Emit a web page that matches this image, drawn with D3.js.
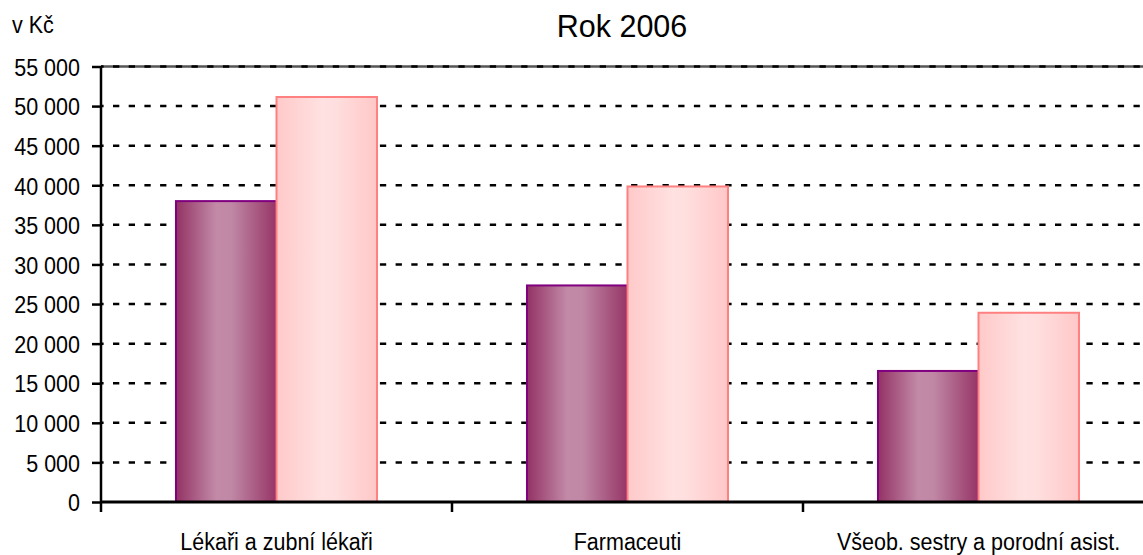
<!DOCTYPE html>
<html>
<head>
<meta charset="utf-8">
<script src="https://cdn.jsdelivr.net/npm/d3@7"></script>
<style>
  html, body { margin: 0; padding: 0; background: #fff; overflow: hidden; }
  svg { display: block; }
  text { font-family: "Liberation Sans", Arial, sans-serif; fill: #000; }
</style>
</head>
<body>
<svg id="chart" width="1143" height="555"></svg>
<script>
// ---- data ----
const categories = ["Lékaři a zubní lékaři", "Farmaceuti", "Všeob. sestry a porodní asist."];
const seriesNames = ["Řada 1", "Řada 2"];
const series1 = [38000, 27350, 16550];
const series2 = [51150, 39850, 23900];
const yTicks = [0, 5000, 10000, 15000, 20000, 25000, 30000, 35000, 40000, 45000, 50000, 55000];
const title = "Rok 2006";
const unitLabel = "v Kč";

// ---- layout ----
const svg = d3.select("#chart");
const plotLeft = 101, plotRight = 1154, plotTop = 66.5, plotBottom = 502;
const sy = 1.13; // vertical stretch of axis text

const locale = d3.formatLocale({ decimal: ",", thousands: " ", grouping: [3], currency: ["", " Kč"] });
const fmt = locale.format(",");

const x = d3.scaleBand().domain(categories).range([plotLeft, plotRight]).paddingInner(0).paddingOuter(0);
const xs = d3.scaleBand().domain(seriesNames).range([0, x.bandwidth()]).paddingInner(0).paddingOuter(0.746);
const y = d3.scaleLinear().domain([0, 55000]).range([plotBottom, plotTop]);

// gradients
const defs = svg.append("defs");
const g1 = defs.append("linearGradient").attr("id", "gPurple").attr("x1", "0").attr("x2", "1").attr("y1", "0").attr("y2", "0");
[["0%", "#933265"], ["40%", "#C28AA7"], ["55%", "#C088A5"], ["100%", "#963567"]].forEach(s => g1.append("stop").attr("offset", s[0]).attr("stop-color", s[1]));
const g2 = defs.append("linearGradient").attr("id", "gPink").attr("x1", "0").attr("x2", "1").attr("y1", "0").attr("y2", "0");
[["0%", "#FFC9C9"], ["45%", "#FFE1E1"], ["60%", "#FFDEDE"], ["100%", "#FFC7C7"]].forEach(s => g2.append("stop").attr("offset", s[0]).attr("stop-color", s[1]));

// grid lines
svg.append("g").selectAll("line").data(yTicks.filter(v => v > 0 && v < 55000)).join("line")
  .attr("x1", plotLeft).attr("x2", 1143)
  .attr("y1", d => y(d)).attr("y2", d => y(d))
  .attr("stroke", "#000").attr("stroke-width", 2.5)
  .attr("stroke-dasharray", "6.3 9.4").attr("stroke-dashoffset", 3.7);

// top border line
svg.append("line").attr("x1", plotLeft).attr("x2", 1143).attr("y1", y(55000)).attr("y2", y(55000))
  .attr("stroke", "#555").attr("stroke-width", 2.5);
svg.append("line").attr("x1", plotLeft).attr("x2", 1143).attr("y1", y(55000)).attr("y2", y(55000))
  .attr("stroke", "#000").attr("stroke-width", 2.5)
  .attr("stroke-dasharray", "6.3 9.4").attr("stroke-dashoffset", 3.7);

// bars
const seriesData = [
  { name: seriesNames[0], values: series1, fill: "url(#gPurple)", stroke: "#800080" },
  { name: seriesNames[1], values: series2, fill: "url(#gPink)", stroke: "#FF8080" }
];
seriesData.forEach(s => {
  svg.append("g").selectAll("rect").data(categories).join("rect")
    .attr("x", c => x(c) + xs(s.name))
    .attr("width", xs.bandwidth())
    .attr("y", (c, i) => y(s.values[i]))
    .attr("height", (c, i) => y(0) - y(s.values[i]))
    .attr("fill", s.fill)
    .attr("stroke", s.stroke)
    .attr("stroke-width", 2);
});

// y axis
const yAxis = svg.append("g").attr("transform", `translate(${plotLeft},0)`)
  .call(d3.axisLeft(y).tickValues(yTicks).tickFormat(fmt).tickSize(9).tickPadding(12));
yAxis.select(".domain").attr("stroke", "#000").attr("stroke-width", 2.5).attr("d", `M0,${plotTop}V${plotBottom}`);
yAxis.selectAll(".tick line").attr("stroke", "#000").attr("stroke-width", 2.5);
yAxis.selectAll(".tick text")
  .style("font-family", '"Liberation Sans", Arial, sans-serif')
  .style("font-size", "21.5px").attr("fill", "#000")
  .attr("dy", "0.36em")
  .attr("transform", `scale(1,${sy})`);

// x axis (labels at band centers)
const xAxis = svg.append("g").attr("transform", `translate(0,${plotBottom})`)
  .call(d3.axisBottom(x).tickSize(0).tickPadding(0));
xAxis.select(".domain").attr("stroke", "#000").attr("stroke-width", 2.8).attr("d", `M${plotLeft},0H1143`);
xAxis.selectAll(".tick text")
  .style("font-family", '"Liberation Sans", Arial, sans-serif')
  .style("font-size", "21.5px").attr("fill", "#000")
  .attr("y", 0).attr("dy", 0)
  .attr("transform", `translate(0,48) scale(1,${sy})`);

// category boundary ticks
svg.append("g").selectAll("line").data(categories).join("line")
  .attr("x1", c => x(c)).attr("x2", c => x(c))
  .attr("y1", plotBottom).attr("y2", plotBottom + 10)
  .attr("stroke", "#000").attr("stroke-width", 2.5);

// title
svg.append("text").attr("x", 622).attr("y", 37).attr("text-anchor", "middle")
  .style("font-size", "30.5px").text(title);

// unit label
svg.append("text").attr("transform", `translate(12,33) scale(1,${sy})`)
  .style("font-size", "21.5px").text(unitLabel);
</script>
</body>
</html>
